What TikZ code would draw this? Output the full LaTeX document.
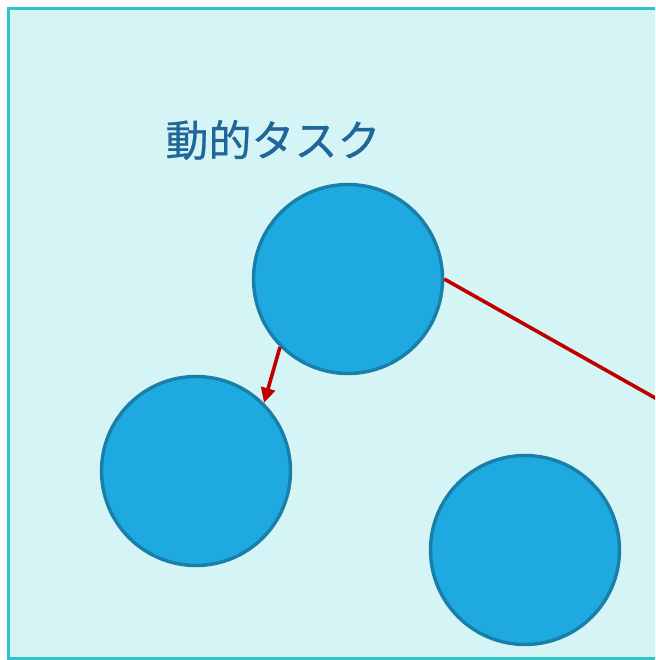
\documentclass[tikz,border=0pt]{standalone}
\usepackage{fontspec}
\newfontfamily\cjk[FakeBold=0.6]{Noto Sans CJK JP}
\usetikzlibrary{arrows.meta}
\definecolor{bgfill}{HTML}{D4F4F5}
\definecolor{frameline}{HTML}{2EC4CB}
\definecolor{circfill}{HTML}{1EAAE1}
\definecolor{circline}{HTML}{1A7FA8}
\definecolor{txtcol}{HTML}{1F6699}
\definecolor{redline}{HTML}{C00000}
\tikzset{
  task/.style={circle, draw=circline, fill=circfill, line width=3.4pt, minimum size=189pt, inner sep=0pt},
  conn/.style={draw=redline, line width=3.6pt},
  label text/.style={font=\cjk\fontsize{43pt}{50pt}\selectfont, text=txtcol, inner sep=0pt}
}
\begin{document}
\begin{tikzpicture}[x=1pt, y=-1pt]
\useasboundingbox (0,0) rectangle (655,660);
\clip (0,0) rectangle (655,660);
\fill[white] (0,0) rectangle (655,660);
\draw[fill=bgfill, draw=frameline, line width=3pt] (8.5,8.5) rectangle (720,658.3);
\node[label text] (title) at (273,140) {動的タスク};
\node[task] (top) at (348,279) {};
\node[task] (left) at (196,471) {};
\node[task] (right) at (525,550) {};
\coordinate (off) at (900,536);
\draw[conn] (top.east) -- (off);
\draw[conn, -{Triangle[length=15pt, width=14pt]}] (top.-135) -- (left.45);
\end{tikzpicture}
\end{document}
